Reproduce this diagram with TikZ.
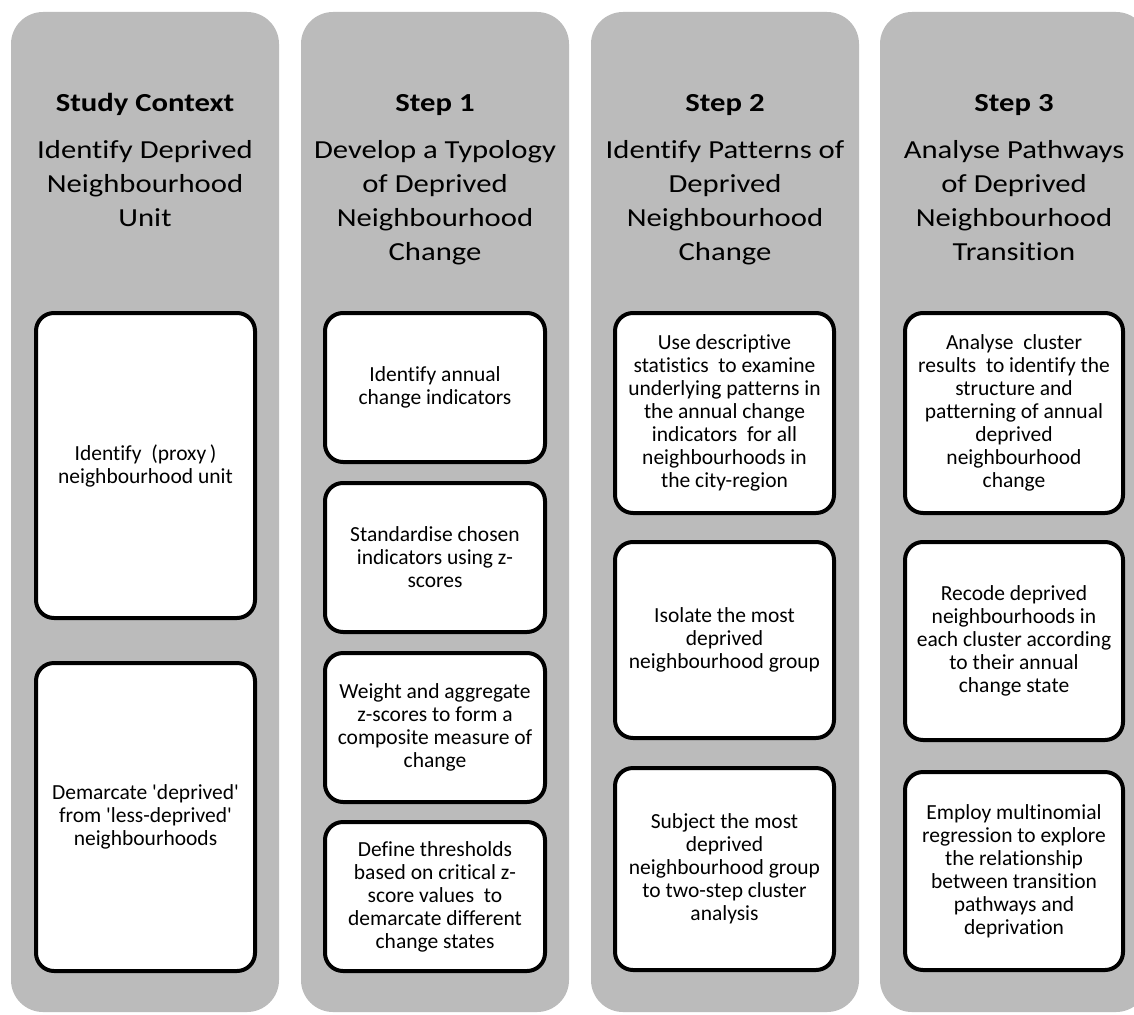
\documentclass[tikz,border=0pt]{standalone}
\usepackage{fontspec}
\setmainfont{Carlito}[Ligatures={TeX,NoCommon}]
\newfontfamily\headfont[FakeStretch=1.18,Ligatures=NoCommon]{Carlito}
\newcommand{\sq}{\textquotesingle}
\definecolor{panelgrey}{HTML}{BBBBBB}
\tikzset{
  panel/.style={fill=panelgrey, draw=none, rounded corners=32pt},
  stepbox/.style={draw=black, line width=4pt, fill=white, rounded corners=18pt, align=center,
    font=\fontsize{21.5}{23}\selectfont, inner sep=0pt},
  ttl/.style={font=\headfont\bfseries\fontsize{26}{34}\selectfont, anchor=base, align=center},
  sub/.style={font=\headfont\fontsize{26}{34}\selectfont, anchor=base, align=center},
}
\newcommand{\boxat}[6]{% name, x1, y1, x2, y2, text
  \node[stepbox, minimum width={#4-#2}, minimum height={#5-#3}] (#1) at ({(#2+#4)/2},{(#3+#5)/2}) {#6};}
\begin{document}
\begin{tikzpicture}[x=1pt,y=-1pt]
\useasboundingbox (0,0) rectangle (1134,1014);
% panels
\fill[panel] (11,12) rectangle (279,1012);
\fill[panel] (301,12) rectangle (569,1012);
\fill[panel] (591,12) rectangle (859,1012);
\fill[panel] (880,12) rectangle (1148,1012);
% headings (base anchor = last line baseline)
\node[ttl] (t0) at (145,112) {Study Context};
\node[sub] (s0) at (145,226) {Identify Deprived\\Neighbourhood\\Unit};
\node[ttl] (t1) at (435,112) {Step 1};
\node[sub] (s1) at (435,260) {Develop a Typology\\of Deprived\\Neighbourhood\\Change};
\node[ttl] (t2) at (725,112) {Step 2};
\node[sub] (s2) at (725,260) {Identify Patterns of\\Deprived\\Neighbourhood\\Change};
\node[ttl] (t3) at (1014,112) {Step 3};
\node[sub] (s3) at (1014,260) {Analyse Pathways\\of Deprived\\Neighbourhood\\Transition};
% column 1
\boxat{a1}{36}{313}{255}{618}{Identify\ \ (proxy\,)\\neighbourhood unit}
\boxat{a2}{36}{663}{255}{971}{Demarcate \sq deprived\sq\\from \sq less-deprived\sq\\neighbourhoods}
% column 2
\boxat{b1}{325}{313}{545}{462}{Identify annual\\change indicators}
\boxat{b2}{325}{483}{545}{632}{Standardise chosen\\indicators using z-\\scores}
\boxat{b3}{325}{653}{545}{802}{Weight and aggregate\\z-scores to form a\\composite measure of\\change}
\boxat{b4}{325}{822}{545}{971}{Define thresholds\\based on critical z-\\score values\ \ to\\demarcate different\\change states}
% column 3
\boxat{c1}{615}{313}{834}{513}{Use descriptive\\statistics\ \ to examine\\underlying patterns in\\the annual change\\indicators\ \ for all\\neighbourhoods in\\the city-region}
\boxat{c2}{615}{542}{834}{738}{Isolate the most\\deprived\\neighbourhood group}
\boxat{c3}{615}{768}{834}{970}{Subject the most\\deprived\\neighbourhood group\\to two-step cluster\\analysis}
% column 4
\boxat{d1}{905}{313}{1123}{513}{Analyse\ \ cluster\\results\ \ to identify the\\structure and\\patterning of annual\\deprived\\neighbourhood\\change}
\boxat{d2}{905}{542}{1123}{740}{Recode deprived\\neighbourhoods in\\each cluster according\\to their annual\\change state}
\boxat{d3}{905}{772}{1123}{970}{Employ multinomial\\regression to explore\\the relationship\\between transition\\pathways and\\deprivation}
\end{tikzpicture}
\end{document}
